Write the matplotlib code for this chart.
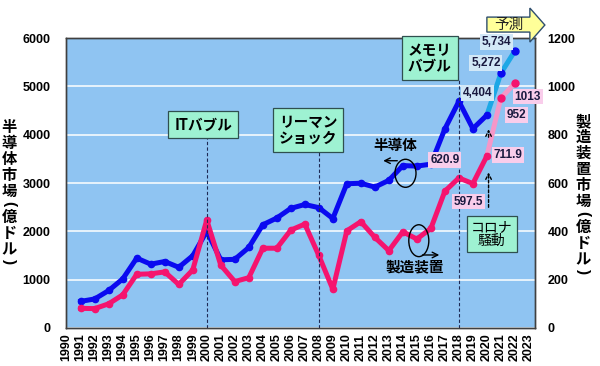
import numpy as np
import matplotlib
matplotlib.use("Agg")
import matplotlib.pyplot as plt
from matplotlib.patches import Ellipse, Polygon

plt.rcParams['font.family'] = ['Liberation Sans', 'Noto Sans CJK JP', 'DejaVu Sans']

# 実績データ
years = list(range(1991, 2021))
semi = [550, 600, 775, 1015, 1445, 1320, 1375, 1255, 1495, 2000,
        1410, 1420, 1665, 2135, 2275, 2475, 2555, 2490, 2265, 2985,
        2995, 2915, 3055, 3360, 3350, 3390, 4120, 4690, 4125, 4404]
equip = [81, 80, 100, 137, 222, 224, 232, 180, 240, 447,
         260, 192, 208, 330, 330, 405, 430, 300, 160, 402,
         440, 375, 320, 398, 368, 412, 566, 620.9, 597.5, 711.9]

# 予測
fc_years = [2020, 2021, 2022]
semi_fc = [4404, 5272, 5734]
equip_fc = [711.9, 952, 1013]

x_ticks = list(range(1990, 2024))
left_ticks = [0, 1000, 2000, 3000, 4000, 5000, 6000]
right_ticks = [0, 200, 400, 600, 800, 1000, 1200]

BLUE = '#0A0AF0'
PINK = '#F5146E'
LBLUE = '#1CA8E6'
LPINK = '#F597C8'
BG = '#8FC4F2'
MINT = '#9EF2D2'

W, H = 600, 366
fig = plt.figure(figsize=(6, 3.66), dpi=100)
ax = fig.add_axes([0.11, 0.104, 0.782, 0.792])
ax2 = ax.twinx()

ax.set_facecolor(BG)
ax.set_xlim(1989.95, 2023.45)
ax.set_ylim(0, 6000)
ax2.set_ylim(0, 1200)
ax.set_yticks(left_ticks)
ax2.set_yticks(right_ticks)
ax.set_xticks(x_ticks)
ax.set_xticklabels([str(y) for y in x_ticks], rotation=90)
ax.grid(axis='y', color='white', lw=1.1)
ax.set_axisbelow(True)

for a in (ax, ax2):
    a.tick_params(length=0, labelsize=9)
    for lab in a.get_xticklabels() + a.get_yticklabels():
        lab.set_fontweight('bold')
    for s in a.spines.values():
        s.set_color('#404040')
        s.set_linewidth(1)
ax.tick_params(axis='y', pad=11)
ax.tick_params(axis='x', pad=4)
ax2.tick_params(axis='y', pad=9)

# 半導体市場
ax.plot(fc_years, semi_fc, color=LBLUE, lw=3.6, zorder=3)
ax.plot(fc_years[1:], semi_fc[1:], 'o', color=BLUE, ms=5, zorder=4)
ax.plot(years, semi, color=BLUE, lw=3.6, marker='o', ms=4.5,
        solid_joinstyle='round', zorder=4)

# 製造装置市場
ax2.plot(fc_years, equip_fc, color=LPINK, lw=3.6, zorder=3)
ax2.plot(fc_years[1:], equip_fc[1:], 'o', color=PINK, ms=5, zorder=4)
ax2.plot(years, equip, color=PINK, lw=3.6, marker='o', ms=4.5,
         solid_joinstyle='round', zorder=4)

T = ax.transData
JP = ['Noto Sans CJK JP', 'DejaVu Sans']
jp = dict(family=JP, fontweight='bold')

# イベント
for xe, ytop in [(2000, 3950), (2008, 3640), (2018, 5150)]:
    ax2.plot([xe, xe], [0, ytop], transform=T, color='#1E2A55', lw=0.8,
             ls=(0, (3, 2)), zorder=5)

box = dict(boxstyle='square,pad=0.4', fc=MINT, ec='#2F4F4F', lw=0.9)
ax2.text(1999.75, 4210, 'ITバブル', transform=T, ha='center', va='center',
         fontsize=10.5, bbox=box, zorder=6, **jp)
ax2.text(2007.25, 4100, 'リーマン\nショック', transform=T, ha='center', va='center',
         fontsize=10.5, bbox=box, zorder=6, linespacing=1.0, **jp)
ax2.text(2015.93, 5590, 'メモリ\nバブル', transform=T, ha='center', va='center',
         fontsize=10.5, bbox=box, zorder=6, linespacing=1.0, **jp)
ax2.text(2020.36, 1945, 'コロナ\n騒動', transform=T, ha='center', va='center',
         fontsize=10, family=JP,
         bbox=dict(boxstyle='square,pad=0.3', fc=MINT, ec='#2F4F4F', lw=0.9),
         zorder=6, linespacing=1.0)

# 数値ラベル
pbox = dict(boxstyle='square,pad=0.15', fc='#F9CDEB', ec='none')
bbox_b = dict(boxstyle='square,pad=0.15', fc='#D2E8F7', ec='none')
for xv, yv, s in [(2020.7, 5924, '5,734'), (2019.93, 5483, '5,272'), (2019.36, 4868, '4,404')]:
    ax2.text(xv, yv, s, transform=T, ha='center', va='center', fontsize=8.5,
             fontweight='bold', color='#1A1A40', bbox=bbox_b, zorder=7, clip_on=False)
for xv, yv, s in [(2022.93, 4786, '1013'), (2022.14, 4407, '952'), (2021.5, 3579, '711.9'),
                  (2017.0, 3476, '620.9'), (2018.71, 2613, '597.5')]:
    ax2.text(xv, yv, s, transform=T, ha='center', va='center', fontsize=8.5,
             fontweight='bold', color='#1A1A40', bbox=pbox, zorder=7)

# 楕円と矢印
ax2.add_patch(Ellipse((2014.19, 3201), 1.5, 580, transform=T, fill=False,
                      ec='black', lw=1, zorder=6))
ax2.add_patch(Ellipse((2015.14, 1806), 1.43, 660, transform=T, fill=False,
                      ec='black', lw=1, zorder=6))
ax2.annotate('', xy=(2012.4, 3461), xytext=(2013.8, 3461), xycoords=T, textcoords=T,
             arrowprops=dict(arrowstyle='->', color='black', lw=1), zorder=6)
ax2.annotate('', xy=(2016.8, 1510), xytext=(2015.2, 1510), xycoords=T, textcoords=T,
             arrowprops=dict(arrowstyle='->', color='black', lw=1), zorder=6)
ax2.text(2013.43, 3786, '半導体', transform=T, ha='center', va='center',
         fontsize=10.5, zorder=6, **jp)
ax2.text(2014.86, 1268, '製造装置', transform=T, ha='center', va='center',
         fontsize=10.5, zorder=6, **jp)

# コロナ矢印
for y0, y1 in [(2440, 3280), (3890, 4170)]:
    ax2.annotate('', xy=(2020.12, y1), xytext=(2020.12, y0), xycoords=T, textcoords=T,
                 arrowprops=dict(arrowstyle='->', color='black', lw=1,
                                 linestyle=(0, (2, 1.5))), zorder=6)

# 予測矢印
arrow = Polygon([(2020.0, 6124), (2023.07, 6124), (2023.07, 5917), (2024.14, 6270),
                 (2023.07, 6621), (2023.07, 6434), (2020.0, 6434)],
                closed=True, transform=T, fc='#FFFF99', ec='#2F4F6F', lw=1,
                clip_on=False, zorder=8)
ax2.add_patch(arrow)
ax2.text(2021.6, 6280, '予測', transform=T, ha='center', va='center', fontsize=10.5,
         color='#222222', zorder=9, clip_on=False, family=JP)


# 軸ラベル(縦書き、1文字ずつ配置、括弧は回転)
def tate(text, xpx, ytop):
    y = ytop
    for ch in text:
        if ch in '()':
            step = 10
            y += step / 2
            fig.text(xpx / W, 1 - y / H, ch, ha='center', va='center',
                     fontsize=11, rotation=-90, fontweight='bold')
        else:
            step = 16
            y += step / 2
            fig.text(xpx / W, 1 - y / H, ch, ha='center', va='center',
                     fontsize=11, **jp)
        y += step / 2


tate('半導体市場(億ドル)', 9, 119)
tate('製造装置市場(億ドル)', 583, 113)

fig.savefig('out.png', dpi=100)
